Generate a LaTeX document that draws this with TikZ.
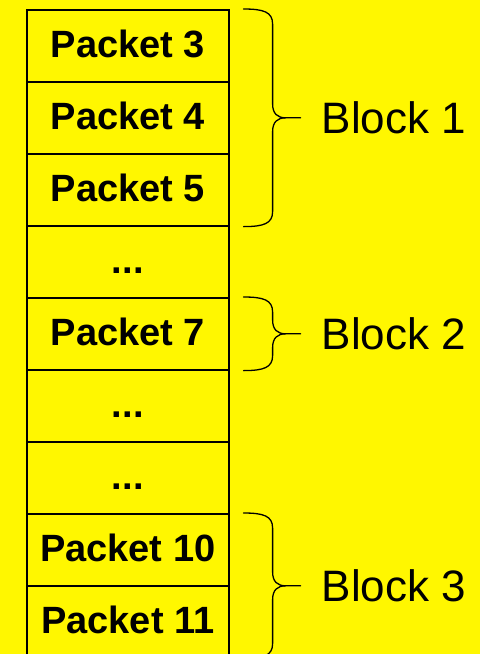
\documentclass[tikz,border=0pt]{standalone}
\usepackage{fontspec}
\setmainfont{Liberation Sans}
\usetikzlibrary{calc}
\definecolor{bg}{RGB}{255,247,0}

% curly brace beside the cells #1..#2, label node named #3
\newcommand\blockbrace[4]{%
  \coordinate (#3-t) at ($(#1.north east)+(14,0)$);
  \coordinate (#3-b) at ($(#2.south east)+(14,0)$);
  \coordinate (#3-m) at ($(#3-t)!0.5!(#3-b)$);
  \draw[brace] (#3-t) .. controls +(20,0) and +(0,-12) .. ($(#3-t)+(29,15)$)
    -- ($(#3-m)+(29,-14)$) .. controls +(0,10) and +(-8,0) .. ($(#3-m)+(42,0)$)
    -- ($(#3-m)+(57,0)$);
  \draw[brace] (#3-b) .. controls +(20,0) and +(0,12) .. ($(#3-b)+(29,-15)$)
    -- ($(#3-m)+(29,14)$) .. controls +(0,-10) and +(-8,0) .. ($(#3-m)+(42,0)$);
  \node[blocklabel] (#3) at ($(#3-m)+(78,0)$) {#4};
}

\begin{document}
\begin{tikzpicture}[x=1pt,y=-1pt,
  cell/.style={draw, line width=1.6pt, minimum width=202pt, minimum height=72pt,
    inner sep=0pt, text height=24pt, text depth=0pt, anchor=north west,
    font=\fontsize{38}{38}\selectfont\bfseries},
  brace/.style={line width=1.3pt, line cap=round, line join=round},
  blocklabel/.style={anchor=west, inner sep=0pt, font=\fontsize{44}{44}\selectfont}]
\fill[bg] (0,0) rectangle (480,654);
\useasboundingbox (0,0) rectangle (480,654);

\node[cell] (r1) at (26,9)   {Packet 3};
\node[cell] (r2) at (26,81)  {Packet 4};
\node[cell] (r3) at (26,153) {Packet 5};
\node[cell] (r4) at (26,225) {...};
\node[cell] (r5) at (26,297) {Packet 7};
\node[cell] (r6) at (26,369) {...};
\node[cell] (r7) at (26,441) {...};
\node[cell] (r8) at (26,513) {Packet 10};
\node[cell] (r9) at (26,585) {Packet 11};

\blockbrace{r1}{r3}{b1}{Block 1}
\blockbrace{r5}{r5}{b2}{Block 2}
\blockbrace{r8}{r9}{b3}{Block 3}
\end{tikzpicture}
\end{document}
